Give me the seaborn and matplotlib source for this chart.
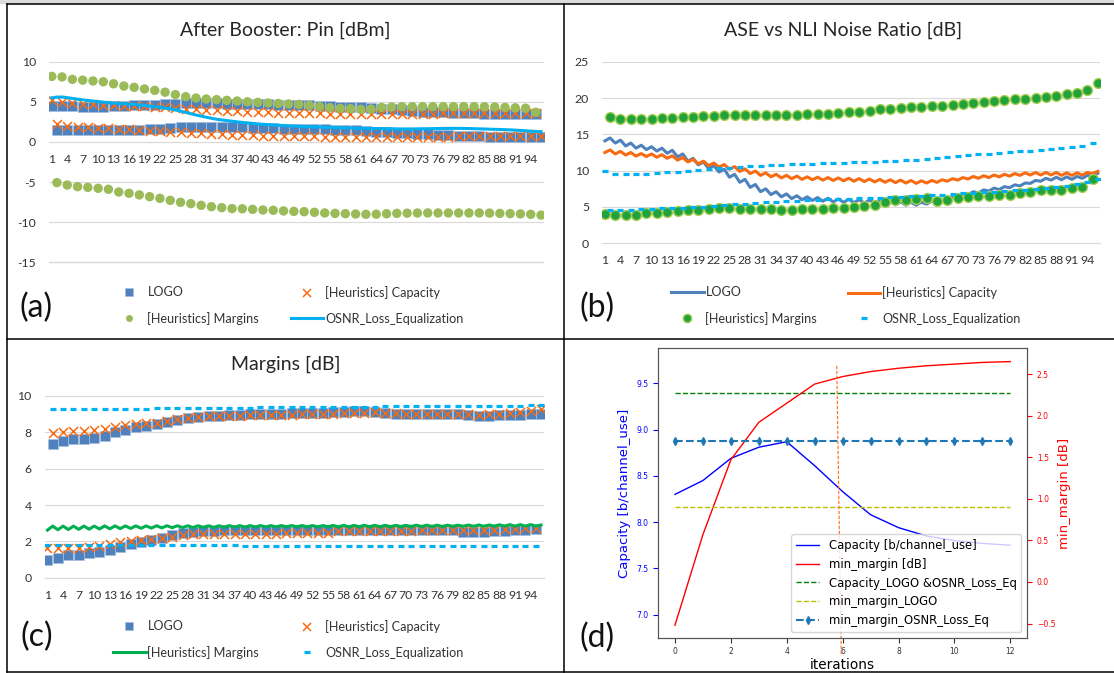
import numpy as np
import seaborn as sns
import matplotlib.pyplot as plt
from matplotlib.lines import Line2D
from matplotlib.patches import Rectangle

# channels 1..96, odd / even channels sit in two separate bands
channels = np.arange(1, 97)
tick_channels = np.arange(1, 96, 3)

# ---- (a) After Booster: Pin [dBm]
pin_logo_odd = [4.5, 4.5, 4.45, 4.4, 4.4, 4.4, 4.45, 4.5, 4.55, 4.6, 4.65, 4.7,
                4.75, 4.8, 4.8, 4.8, 4.8, 4.78, 4.75, 4.72, 4.7, 4.68, 4.65, 4.62,
                4.6, 4.55, 4.5, 4.45, 4.4, 4.35, 4.3, 4.25, 4.15, 4.05, 3.95, 3.85,
                3.78, 3.72, 3.68, 3.62, 3.58, 3.55, 3.52, 3.5, 3.5, 3.48, 3.47, 3.45]
pin_logo_even = [1.5, 1.48, 1.47, 1.46, 1.46, 1.47, 1.5, 1.52, 1.55, 1.6, 1.65, 1.72,
                 1.8, 1.85, 1.88, 1.88, 1.86, 1.83, 1.8, 1.75, 1.72, 1.68, 1.65, 1.62,
                 1.6, 1.58, 1.56, 1.54, 1.5, 1.45, 1.38, 1.3, 1.22, 1.15, 1.08, 1.0,
                 0.95, 0.9, 0.85, 0.8, 0.75, 0.7, 0.66, 0.63, 0.6, 0.58, 0.57, 0.56]
pin_cap_odd = [5.22, 5.0, 4.85, 4.75, 4.7, 4.62, 4.55, 4.5, 4.47, 4.43, 4.38, 4.3,
               4.2, 4.12, 4.05, 3.98, 3.92, 3.86, 3.8, 3.75, 3.7, 3.67, 3.64, 3.62,
               3.6, 3.58, 3.56, 3.54, 3.52, 3.5, 3.48, 3.47, 3.47, 3.48, 3.5, 3.52,
               3.53, 3.54, 3.55, 3.55, 3.55, 3.55, 3.55, 3.55, 3.55, 3.55, 3.55, 3.6]
pin_cap_even = [2.2, 2.0, 1.85, 1.8, 1.75, 1.7, 1.62, 1.57, 1.5, 1.42, 1.36, 1.3,
                1.22, 1.15, 1.08, 1.0, 0.95, 0.9, 0.87, 0.84, 0.8, 0.77, 0.74, 0.72,
                0.7, 0.68, 0.67, 0.66, 0.65, 0.65, 0.65, 0.65, 0.66, 0.66, 0.66, 0.67,
                0.67, 0.67, 0.67, 0.68, 0.68, 0.68, 0.68, 0.69, 0.7, 0.7, 0.72, 0.74]
pin_marg_odd = [8.17, 8.1, 7.8, 7.7, 7.6, 7.5, 7.25, 6.97, 6.8, 6.6, 6.43, 6.2,
                5.9, 5.64, 5.47, 5.35, 5.27, 5.18, 5.1, 5.0, 4.93, 4.85, 4.8, 4.73,
                4.68, 4.56, 4.4, 4.27, 4.19, 4.15, 4.06, 4.1, 4.3, 4.35, 4.4, 4.4,
                4.4, 4.4, 4.4, 4.4, 4.4, 4.4, 4.38, 4.35, 4.3, 4.25, 4.2, 3.7]
pin_marg_even = [-5.07, -5.37, -5.57, -5.66, -5.78, -5.9, -6.24, -6.4, -6.6, -6.82,
                 -7.03, -7.28, -7.52, -7.69, -7.9, -8.07, -8.19, -8.31, -8.33, -8.4,
                 -8.48, -8.52, -8.6, -8.65, -8.69, -8.77, -8.85, -8.9, -8.94, -8.98,
                 -9.02, -9.0, -8.95, -8.9, -8.88, -8.86, -8.85, -8.85, -8.85, -8.85,
                 -8.85, -8.85, -8.87, -8.9, -8.93, -8.97, -9.02, -9.12]
pin_osnr = [5.50, 5.58, 5.60, 5.52, 5.42, 5.33, 5.25, 5.17, 5.10, 5.03,
            4.96, 4.90, 4.85, 4.80, 4.76, 4.72, 4.68, 4.62, 4.55, 4.48,
            4.40, 4.32, 4.22, 4.10, 3.98, 3.84, 3.68, 3.52, 3.36, 3.22,
            3.08, 2.95, 2.83, 2.74, 2.66, 2.58, 2.50, 2.43, 2.37, 2.31,
            2.25, 2.20, 2.16, 2.12, 2.08, 2.04, 2.01, 1.98, 1.95, 1.92,
            1.90, 1.88, 1.86, 1.84, 1.82, 1.80, 1.78, 1.76, 1.74, 1.72,
            1.70, 1.69, 1.68, 1.67, 1.66, 1.65, 1.64, 1.63, 1.62, 1.62,
            1.62, 1.63, 1.64, 1.65, 1.66, 1.67, 1.68, 1.69, 1.69, 1.69,
            1.68, 1.67, 1.65, 1.63, 1.61, 1.59, 1.57, 1.55, 1.53, 1.50,
            1.47, 1.43, 1.39, 1.35, 1.31, 1.28]

# ---- (b) ASE vs NLI Noise Ratio [dB]
ratio_logo_odd = [14.1, 13.8, 13.4, 13.1, 12.9, 12.7, 12.4, 11.9, 11.3, 10.8, 10.3, 9.8,
                  9.1, 8.4, 7.7, 7.1, 6.7, 6.4, 6.15, 6.0, 5.9, 5.8, 5.7, 5.65,
                  5.6, 5.55, 5.5, 5.4, 5.3, 5.25, 5.25, 5.4, 5.65, 6.0, 6.4, 6.7,
                  6.95, 7.2, 7.4, 7.65, 7.9, 8.25, 8.55, 8.7, 8.75, 8.8, 8.95, 9.2]
ratio_logo_even = [14.5, 14.2, 13.8, 13.5, 13.3, 13.1, 12.8, 12.3, 11.7, 11.2, 10.7, 10.2,
                   9.5, 8.8, 8.1, 7.5, 7.1, 6.8, 6.55, 6.4, 6.3, 6.2, 6.1, 6.05,
                   6.0, 5.95, 5.9, 5.8, 5.7, 5.65, 5.65, 5.8, 6.05, 6.4, 6.8, 7.1,
                   7.35, 7.6, 7.8, 8.05, 8.3, 8.65, 8.95, 9.1, 9.15, 9.2, 9.35, 9.65]
ratio_cap_odd = [12.5, 12.3, 12.15, 12.0, 11.95, 11.85, 11.7, 11.45, 11.2, 10.95, 10.7, 10.5,
                 10.2, 9.9, 9.6, 9.35, 9.15, 9.0, 8.9, 8.8, 8.75, 8.7, 8.65, 8.6,
                 8.55, 8.5, 8.45, 8.4, 8.35, 8.3, 8.25, 8.3, 8.4, 8.55, 8.7, 8.85,
                 8.95, 9.05, 9.15, 9.25, 9.35, 9.4, 9.4, 9.4, 9.35, 9.35, 9.4, 9.6]
ratio_cap_even = [12.85, 12.65, 12.5, 12.35, 12.3, 12.2, 12.05, 11.8, 11.55, 11.3, 11.05, 10.85,
                  10.55, 10.25, 9.95, 9.7, 9.5, 9.35, 9.25, 9.15, 9.1, 9.05, 9.0, 8.95,
                  8.9, 8.85, 8.8, 8.75, 8.7, 8.65, 8.6, 8.65, 8.75, 8.9, 9.05, 9.2,
                  9.3, 9.4, 9.5, 9.6, 9.7, 9.75, 9.75, 9.75, 9.7, 9.7, 9.75, 9.9]
ratio_marg_odd = [3.99, 3.85, 3.9, 3.94, 4.13, 4.17, 4.31, 4.4, 4.54, 4.63, 4.77, 4.86,
                  4.82, 4.77, 4.68, 4.68, 4.68, 4.65, 4.65, 4.72, 4.77, 4.77, 4.86, 4.9,
                  5.0, 5.14, 5.28, 5.73, 5.96, 6.0, 6.1, 6.24, 5.78, 5.96, 6.19, 6.38,
                  6.47, 6.56, 6.65, 6.7, 6.88, 7.1, 7.29, 7.39, 7.39, 7.57, 7.8, 8.81]
ratio_marg_even = [17.43, 17.16, 17.1, 17.1, 17.1, 17.2, 17.3, 17.4, 17.4, 17.48, 17.57, 17.6,
                   17.66, 17.66, 17.63, 17.63, 17.66, 17.66, 17.7, 17.75, 17.8, 17.84, 17.94, 18.03,
                   18.12, 18.26, 18.44, 18.53, 18.62, 18.7, 18.8, 18.85, 18.94, 19.04, 19.17, 19.3,
                   19.45, 19.54, 19.68, 19.82, 19.9, 20.05, 20.18, 20.32, 20.5, 20.73, 21.1, 22.1]
ratio_osnr_odd = [10.0, 9.6, 9.55, 9.55, 9.6, 9.65, 9.75, 9.85, 9.95, 10.1, 10.2, 10.3,
                  10.4, 10.5, 10.6, 10.65, 10.75, 10.8, 10.85, 10.9, 10.95, 11.0, 11.05, 11.1,
                  11.15, 11.2, 11.25, 11.3, 11.35, 11.4, 11.45, 11.55, 11.7, 11.85, 12.0, 12.15,
                  12.25, 12.35, 12.45, 12.55, 12.65, 12.75, 12.85, 12.95, 13.1, 13.25, 13.45, 13.8]
ratio_osnr_even = [4.55, 4.6, 4.65, 4.7, 4.75, 4.8, 4.85, 4.9, 4.95, 5.05, 5.15, 5.25,
                   5.35, 5.45, 5.55, 5.65, 5.72, 5.8, 5.87, 5.93, 6.0, 6.05, 6.1, 6.15,
                   6.2, 6.25, 6.3, 6.36, 6.42, 6.48, 6.55, 6.62, 6.7, 6.78, 6.86, 6.94,
                   7.02, 7.1, 7.2, 7.3, 7.4, 7.5, 7.62, 7.75, 7.9, 8.1, 8.4, 8.8]

# ---- (c) Margins [dB]
marg_logo_odd = [1.0, 1.06, 1.25, 1.25, 1.34, 1.39, 1.52, 1.7, 1.85, 1.98, 2.07, 2.2,
                 2.35, 2.44, 2.53, 2.57, 2.59, 2.61, 2.62, 2.62, 2.62, 2.62, 2.62, 2.62,
                 2.62, 2.62, 2.62, 2.62, 2.63, 2.63, 2.64, 2.64, 2.64, 2.64, 2.64, 2.64,
                 2.64, 2.64, 2.64, 2.64, 2.53, 2.5, 2.53, 2.57, 2.59, 2.61, 2.62, 2.66]
marg_logo_even = [7.36, 7.54, 7.63, 7.65, 7.7, 7.8, 8.0, 8.15, 8.28, 8.37, 8.46, 8.59,
                  8.68, 8.79, 8.84, 8.9, 8.92, 8.95, 8.97, 9.0, 9.0, 9.02, 9.03, 9.04,
                  9.05, 9.06, 9.08, 9.1, 9.14, 9.17, 9.17, 9.14, 9.08, 9.03, 9.03, 9.02,
                  9.02, 9.02, 9.02, 9.02, 8.95, 8.92, 8.92, 8.95, 8.95, 8.97, 8.99, 9.03]
marg_cap_odd = [1.61, 1.61, 1.65, 1.65, 1.69, 1.72, 1.83, 1.94, 2.02, 2.07, 2.13, 2.2,
                2.26, 2.35, 2.39, 2.4, 2.4, 2.4, 2.4, 2.4, 2.4, 2.4, 2.4, 2.48,
                2.48, 2.48, 2.48, 2.48, 2.57, 2.57, 2.57, 2.57, 2.57, 2.57, 2.57, 2.57,
                2.62, 2.62, 2.62, 2.62, 2.62, 2.62, 2.62, 2.62, 2.66, 2.68, 2.72, 2.75]
marg_cap_even = [7.98, 8.02, 8.07, 8.07, 8.11, 8.17, 8.31, 8.4, 8.46, 8.5, 8.53, 8.62,
                 8.72, 8.81, 8.84, 8.88, 8.9, 8.9, 8.92, 8.94, 8.95, 8.96, 8.97, 8.98,
                 9.0, 9.0, 9.02, 9.03, 9.05, 9.06, 9.08, 9.1, 9.08, 9.05, 9.03, 9.03,
                 9.03, 9.03, 9.03, 9.03, 9.0, 8.97, 9.0, 9.03, 9.06, 9.1, 9.17, 9.28]
marg_marg_odd = [2.62, 2.64, 2.65, 2.66, 2.67, 2.68, 2.69, 2.7, 2.71, 2.72, 2.73, 2.74,
                 2.75, 2.76, 2.76, 2.77, 2.77, 2.78, 2.78, 2.78, 2.79, 2.79, 2.79, 2.8,
                 2.8, 2.8, 2.8, 2.8, 2.8, 2.8, 2.81, 2.81, 2.81, 2.81, 2.82, 2.82,
                 2.82, 2.82, 2.82, 2.83, 2.83, 2.83, 2.83, 2.84, 2.84, 2.84, 2.84, 2.84]
marg_marg_even = [2.84, 2.84, 2.84, 2.84, 2.84, 2.85, 2.85, 2.85, 2.85, 2.85, 2.86, 2.86,
                  2.86, 2.86, 2.86, 2.86, 2.86, 2.87, 2.87, 2.87, 2.87, 2.87, 2.87, 2.87,
                  2.87, 2.87, 2.87, 2.88, 2.88, 2.88, 2.88, 2.88, 2.88, 2.88, 2.88, 2.89,
                  2.89, 2.89, 2.89, 2.89, 2.9, 2.9, 2.9, 2.91, 2.92, 2.92, 2.92, 2.9]
marg_osnr_odd = [1.8, 1.8, 1.8, 1.8, 1.8, 1.8, 1.8, 1.8, 1.79, 1.79, 1.79, 1.79,
                 1.79, 1.78, 1.78, 1.78, 1.78, 1.78, 1.78, 1.77, 1.77, 1.77, 1.77, 1.77,
                 1.77, 1.77, 1.76, 1.76, 1.76, 1.76, 1.76, 1.76, 1.76, 1.76, 1.76, 1.75,
                 1.75, 1.75, 1.75, 1.75, 1.75, 1.75, 1.75, 1.75, 1.75, 1.75, 1.75, 1.75]
marg_osnr_even = [9.27, 9.27, 9.28, 9.28, 9.29, 9.29, 9.3, 9.3, 9.31, 9.31, 9.32, 9.32,
                  9.33, 9.33, 9.34, 9.34, 9.35, 9.35, 9.36, 9.36, 9.37, 9.37, 9.38, 9.38,
                  9.39, 9.39, 9.4, 9.4, 9.41, 9.41, 9.42, 9.42, 9.43, 9.43, 9.43, 9.44,
                  9.44, 9.44, 9.45, 9.45, 9.45, 9.46, 9.46, 9.46, 9.47, 9.47, 9.48, 9.48]

# ---- (d) iterations
iterations = np.arange(13)
capacity = [8.30, 8.45, 8.69, 8.81, 8.87, 8.61, 8.33, 8.08, 7.94, 7.85, 7.80, 7.77, 7.75]
min_margin = [-0.52, 0.57, 1.47, 1.92, 2.15, 2.38, 2.47, 2.53, 2.57, 2.60, 2.62, 2.64, 2.65]
capacity_logo_osnr = 9.40
min_margin_logo = 0.90
min_margin_osnr = 1.70
cut_x = [5.79, 5.95]
cut_y = [2.60, -0.88]

BLUE = '#4f81bd'
ORANGE = '#f76b12'
CYAN = '#00b0f0'
OLIVE = '#9bbb59'
GREEN = '#00b050'
TXT = '#333333'
GRID = '#d9d9d9'

plt.rcParams['font.family'] = ['Lato', 'DejaVu Sans']


def interleave(odd, even):
    v = np.empty(len(odd) + len(even))
    v[0::2] = odd
    v[1::2] = even
    return v


W, H = 1114, 673
fig = plt.figure(figsize=(W / 100, H / 100), dpi=100)


def rect(x0, y0, x1, y1):
    return [x0 / W, 1 - y1 / H, (x1 - x0) / W, (y1 - y0) / H]


def excel_axes(ax, ylim, yticks):
    ax.set_xlim(0.5, 96.5)
    ax.set_ylim(*ylim)
    ax.set_yticks(yticks)
    ax.set_yticklabels([str(t) for t in yticks])
    ax.set_xticks(tick_channels)
    ax.set_xticklabels([str(t) for t in tick_channels])
    ax.grid(axis='y', color=GRID, lw=0.8)
    ax.set_axisbelow(True)
    for s in ['top', 'right', 'left']:
        ax.spines[s].set_visible(False)
    ax.spines['bottom'].set_color(GRID)
    ax.tick_params(length=0, labelsize=8.8, colors=TXT)
    ax.tick_params(axis='x', pad=8.5)
    ax.tick_params(axis='y', pad=9.5)
    ax.set_xlabel('')
    ax.set_ylabel('')


def column_legend(handles, labels, x_px, y_px):
    fig.legend(handles, labels, loc='center left',
               bbox_to_anchor=(x_px / W, 1 - y_px / H),
               frameon=False, fontsize=9.1, borderpad=0, borderaxespad=0,
               handlelength=2.55, handletextpad=0.15, labelspacing=1.05,
               labelcolor=TXT)


def squares(ax, y):
    sns.scatterplot(x=channels, y=y, ax=ax, marker='s', s=46, color=BLUE,
                    edgecolor='#a8c0e0', linewidth=0.5, zorder=3)


def crosses(ax, y):
    sns.scatterplot(x=channels, y=y, ax=ax, marker='x', s=42, color=ORANGE,
                    linewidth=1.1, zorder=3)


def dashes(ax, y):
    sns.scatterplot(x=channels, y=y, ax=ax, marker='_', s=22, color=CYAN,
                    linewidth=2.3, zorder=4)


h_square = Line2D([], [], ls='none', marker='s', ms=5.3, mfc=BLUE, mec='#a8c0e0', mew=0.5)
h_cross = Line2D([], [], ls='none', marker='x', ms=6, color=ORANGE, mew=1.1)
h_dash = Line2D([], [], ls='none', marker='_', ms=4.5, color=CYAN, mew=2.3)

# ---------------- panel (a)
ax_a = fig.add_axes(rect(49.2, 61.7, 543.6, 264.3))
squares(ax_a, interleave(pin_logo_odd, pin_logo_even))
crosses(ax_a, interleave(pin_cap_odd, pin_cap_even))
sns.scatterplot(x=channels, y=interleave(pin_marg_odd, pin_marg_even), ax=ax_a,
                marker='o', s=46, color=OLIVE, edgecolor='none', zorder=3)
sns.lineplot(x=channels, y=pin_osnr, ax=ax_a, color=CYAN, lw=2.2, zorder=4)
excel_axes(ax_a, (-15.25, 10), [-15, -10, -5, 0, 5, 10])
ax_a.axhline(-15, color=GRID, lw=1.0, zorder=0.5)
ax_a.spines['bottom'].set_position(('data', 0))
fig.text(285.7 / W, 1 - 30 / H, 'After Booster: Pin [dBm]', ha='center', va='center',
         fontsize=14, color='#262626')
h_olive = Line2D([], [], ls='none', marker='o', ms=5, mfc=OLIVE, mec='none')
h_cyan = Line2D([], [], color=CYAN, lw=2.2)
column_legend([h_square, h_olive], ['LOGO', '[Heuristics] Margins'], 113.3, 305.5)
column_legend([h_cross, h_cyan], ['[Heuristics] Capacity', 'OSNR_Loss_Equalization'], 291, 305.5)

# ---------------- panel (b)
ax_b = fig.add_axes(rect(602.3, 61.7, 1100.4, 243.3))
sns.lineplot(x=channels, y=interleave(ratio_logo_odd, ratio_logo_even), ax=ax_b,
             color=BLUE, lw=2.2)
sns.lineplot(x=channels, y=interleave(ratio_cap_odd, ratio_cap_even), ax=ax_b,
             color=ORANGE, lw=2.2)
sns.scatterplot(x=channels, y=interleave(ratio_marg_odd, ratio_marg_even), ax=ax_b,
                marker='o', s=50, color='#1fa33a', edgecolor='#a6cf52', linewidth=1.0,
                zorder=3)
dashes(ax_b, interleave(ratio_osnr_odd, ratio_osnr_even))
excel_axes(ax_b, (0, 25), [0, 5, 10, 15, 20, 25])
fig.text(842.7 / W, 1 - 30 / H, 'ASE vs NLI Noise Ratio [dB]', ha='center', va='center',
         fontsize=14, color='#262626')
h_bl = Line2D([], [], color=BLUE, lw=2.2)
h_or = Line2D([], [], color=ORANGE, lw=2.2)
h_gd = Line2D([], [], ls='none', marker='o', ms=6, mfc='#1fa33a', mec='#a6cf52', mew=1.0)
column_legend([h_bl, h_gd], ['LOGO', '[Heuristics] Margins'], 671.3, 305.5)
column_legend([h_or, h_dash], ['[Heuristics] Capacity', 'OSNR_Loss_Equalization'], 848, 305.5)

# ---------------- panel (c)
ax_c = fig.add_axes(rect(44.9, 396, 543.6, 577.7))
squares(ax_c, interleave(marg_logo_odd, marg_logo_even))
crosses(ax_c, interleave(marg_cap_odd, marg_cap_even))
sns.lineplot(x=channels, y=interleave(marg_marg_odd, marg_marg_even), ax=ax_c,
             color=GREEN, lw=2.2, zorder=4)
dashes(ax_c, interleave(marg_osnr_odd, marg_osnr_even))
excel_axes(ax_c, (0, 10), [0, 2, 4, 6, 8, 10])
fig.text(285.7 / W, 1 - 364.3 / H, 'Margins [dB]', ha='center', va='center',
         fontsize=14, color='#262626')
h_gr = Line2D([], [], color=GREEN, lw=2.2)
column_legend([h_square, h_gr], ['LOGO', '[Heuristics] Margins'], 113.3, 639.5)
column_legend([h_cross, h_dash], ['[Heuristics] Capacity', 'OSNR_Loss_Equalization'], 291, 639.5)

# ---------------- panel (d)
ax_d = fig.add_axes(rect(658.2, 348.3, 1027.1, 637.7))
ax_d2 = ax_d.twinx()
sns.lineplot(x=iterations, y=capacity, ax=ax_d, color='b', lw=1)
ax_d.plot(iterations, np.full(len(iterations), capacity_logo_osnr), color='g', ls='--', lw=1)
sns.lineplot(x=iterations, y=min_margin, ax=ax_d2, color='r', lw=1)
ax_d2.plot(iterations, np.full(len(iterations), min_margin_logo), color='#bfbf00', ls='--', lw=1)
ax_d2.plot(iterations, np.full(len(iterations), min_margin_osnr), color='#1f77b4', ls='--',
           lw=1.5, marker='d', ms=4)
ax_d2.plot(cut_x, cut_y, color='#ff6a13', ls='--', lw=0.8, dashes=(3, 1.5), clip_on=False)
ax_d.set_xlim(-0.6, 12.6)
ax_d.set_ylim(6.75, 9.88)
ax_d2.set_ylim(-0.67, 2.81)
ax_d.set_xticks(range(0, 13, 2))
ax_d.set_yticks([7.0, 7.5, 8.0, 8.5, 9.0, 9.5])
ax_d2.set_yticks([-0.5, 0.0, 0.5, 1.0, 1.5, 2.0, 2.5])
ax_d.tick_params(axis='y', colors='b', labelsize=5.5, labelfontfamily='DejaVu Sans')
ax_d.tick_params(axis='x', labelsize=5.5, labelfontfamily='DejaVu Sans', colors='#333333')
ax_d2.tick_params(axis='y', colors='r', labelsize=5.5, labelfontfamily='DejaVu Sans')
for a in (ax_d, ax_d2):
    for s in a.spines.values():
        s.set_color('#555555')
ax_d.set_xlabel('iterations', fontsize=9.8, fontfamily='DejaVu Sans', labelpad=1)
ax_d.set_ylabel('Capacity [b/channel_use]', color='b', fontsize=9.5, fontfamily='DejaVu Sans')
ax_d2.set_ylabel('min_margin [dB]', color='r', fontsize=9.5, fontfamily='DejaVu Sans',
                 labelpad=2)
hd = [Line2D([], [], color='b', lw=1),
      Line2D([], [], color='r', lw=1),
      Line2D([], [], color='g', ls='--', lw=1),
      Line2D([], [], color='#bfbf00', ls='--', lw=1),
      Line2D([], [], color='#1f77b4', ls='--', lw=1.5, marker='d', ms=4)]
ax_d2.legend(hd, ['Capacity [b/channel_use]', 'min_margin [dB]', 'Capacity_LOGO &OSNR_Loss_Eq',
                  'min_margin_LOGO', 'min_margin_OSNR_Loss_Eq'],
             loc='lower right', prop={'family': 'DejaVu Sans', 'size': 8.4})

# ---------------- panel tags and frame
for tag, x, y in [('(a)', 36, 308), ('(b)', 597, 308), ('(c)', 37, 637), ('(d)', 597, 638)]:
    fig.text(x / W, 1 - y / H, tag, ha='center', va='center', fontsize=23, color='#111111')

fig.patches.append(Rectangle((0, 1 - 3 / H), 1, 3 / H, transform=fig.transFigure,
                             color='#dcdcdc', zorder=0))
frame = [((7, 7), (4, 672)), ((7, 1114), (4, 4)), ((7, 1114), (672, 672)),
         ((564, 564), (4, 672)), ((7, 1114), (339, 339))]
for xs, ys in frame:
    fig.add_artist(Line2D([x / W for x in xs], [1 - y / H for y in ys],
                          transform=fig.transFigure, color='black', lw=1.1))

fig.savefig('out.png', dpi=100)
